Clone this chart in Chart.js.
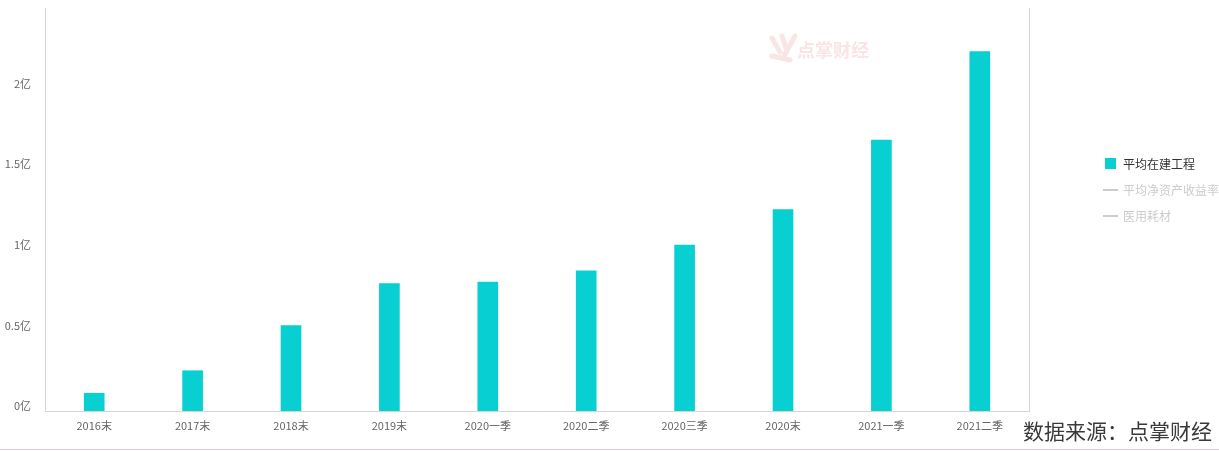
<!DOCTYPE html>
<html>
<head>
<meta charset="utf-8">
<script src="https://cdn.jsdelivr.net/npm/chart.js@4/dist/chart.umd.min.js"></script>
<style>
  html, body { margin: 0; padding: 0; background: #fff; }
  #wrap { width: 1219px; height: 451px; position: relative; }
</style>
</head>
<body>
<div id="wrap"><canvas id="chart" width="1219" height="451"></canvas></div>
<script>
var categories = ['2016末', '2017末', '2018末', '2019末', '2020一季', '2020二季', '2020三季', '2020末', '2021一季', '2021二季'];
var avgConstruction = [0.11, 0.25, 0.53, 0.79, 0.80, 0.87, 1.03, 1.25, 1.68, 2.23];
var seriesNames = ['平均在建工程', '平均净资产收益率', '医用耗材'];
var yTicks = [0, 0.5, 1, 1.5, 2];
var sourceText = '数据来源：点掌财经';
var watermarkText = '点掌财经';

var font = '"Noto Sans CJK SC", "Microsoft YaHei", sans-serif';

var extras = {
    id: 'extras',
    afterDraw: function (chart) {
        var ctx = chart.ctx;
        ctx.save();
        // watermark
        ctx.fillStyle = 'rgba(232, 150, 150, 0.25)';
        ctx.font = 'bold 18px ' + font;
        ctx.textBaseline = 'middle';
        ctx.textAlign = 'left';
        ctx.fillText(watermarkText, 797, 50);
        ctx.strokeStyle = 'rgba(232, 150, 150, 0.25)';
        ctx.lineWidth = 5;
        ctx.lineCap = 'round';
        ctx.beginPath();
        ctx.moveTo(772, 38); ctx.lineTo(780, 52);
        ctx.moveTo(782, 36); ctx.lineTo(786, 48);
        ctx.moveTo(795, 36); ctx.lineTo(783, 58);
        ctx.moveTo(772, 56); ctx.lineTo(790, 60);
        ctx.stroke();

        // legend
        var lx = 1105;
        var ly = 164;
        chart.data.datasets.forEach(function (ds, i) {
            var y = ly + i * 26;
            if (i === 0) {
                ctx.fillStyle = ds.backgroundColor;
                ctx.fillRect(lx, y - 6, 11, 11);
                ctx.fillStyle = '#333';
            } else {
                ctx.strokeStyle = '#ccc';
                ctx.lineWidth = 2;
                ctx.lineCap = 'butt';
                ctx.beginPath();
                ctx.moveTo(lx - 2, y);
                ctx.lineTo(lx + 13, y);
                ctx.stroke();
                ctx.fillStyle = '#ccc';
            }
            ctx.font = '12px ' + font;
            ctx.textAlign = 'left';
            ctx.textBaseline = 'middle';
            ctx.fillText(ds.label, lx + 18, y);
        });

        // source
        ctx.fillStyle = '#3a3a3a';
        ctx.font = '21px ' + font;
        ctx.textAlign = 'right';
        ctx.textBaseline = 'middle';
        ctx.fillText(sourceText, 1212, 431);

        // bottom pink rule
        ctx.strokeStyle = '#f1c4cc';
        ctx.lineWidth = 1;
        ctx.beginPath();
        ctx.moveTo(0, 449.5);
        ctx.lineTo(1219, 449.5);
        ctx.stroke();
        ctx.restore();
    }
};

new Chart(document.getElementById('chart').getContext('2d'), {
    type: 'bar',
    data: {
        labels: categories,
        datasets: [{
            label: seriesNames[0],
            data: avgConstruction,
            backgroundColor: '#07cfd2',
            barThickness: 20,
            yAxisID: 'y'
        }, {
            type: 'line',
            label: seriesNames[1],
            data: [],
            hidden: true,
            yAxisID: 'y1'
        }, {
            type: 'line',
            label: seriesNames[2],
            data: [],
            hidden: true,
            yAxisID: 'y1'
        }]
    },
    options: {
        responsive: false,
        animation: false,
        layout: { padding: { top: 8, left: 0, right: 0, bottom: 0 } },
        plugins: {
            legend: { display: false },
            tooltip: { enabled: false }
        },
        scales: {
            x: {
                grid: { display: false, drawTicks: false },
                border: { color: '#d5d5d5' },
                ticks: {
                    color: '#666',
                    font: { size: 11, family: font },
                    padding: 8,
                    maxRotation: 0,
                    autoSkip: false
                },
                afterFit: function (scale) {
                    scale.height = 40;
                    scale.paddingLeft = 0;
                    scale.paddingRight = 0;
                }
            },
            y: {
                min: 0,
                max: 2.5,
                afterBuildTicks: function (scale) {
                    scale.ticks = yTicks.map(function (v) { return { value: v }; });
                },
                grid: { display: false, drawTicks: false },
                border: { color: '#d5d5d5' },
                ticks: {
                    color: '#666',
                    font: { size: 11, family: font },
                    padding: 14,
                    labelOffset: -5,
                    callback: function (v) { return v + '亿'; }
                },
                afterFit: function (scale) {
                    scale.width = 45;
                    scale.paddingTop = 0;
                    scale.paddingBottom = 0;
                }
            },
            y1: {
                position: 'right',
                display: true,
                min: 0,
                max: 1,
                grid: { display: false, drawTicks: false },
                border: { color: '#d5d5d5' },
                ticks: { display: false },
                afterFit: function (scale) { scale.width = 190; }
            }
        }
    },
    plugins: [extras]
});
</script>
</body>
</html>
